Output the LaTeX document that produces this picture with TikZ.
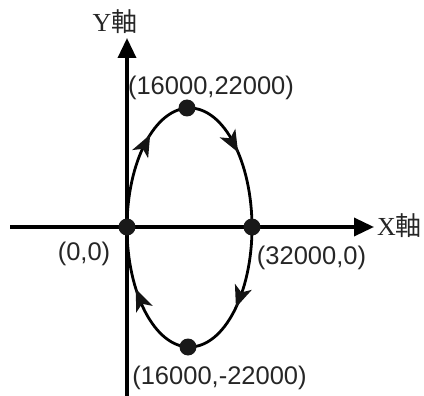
\documentclass[tikz,border=0pt]{standalone}
\usepackage{fontspec}
\setmainfont{Liberation Serif}
\newfontfamily\lsans{Liberation Sans}
\newfontfamily\cjk{Noto Sans CJK TC}
\usetikzlibrary{arrows.meta,calc}
\begin{document}
\begin{tikzpicture}[x=1pt,y=1pt,
  axis/.style={line width=3.5pt,-{Triangle[length=20pt,width=18pt]}},
  curve/.style={line width=2.8pt},
  head/.style={fill=black!92},
  dot/.style={circle,fill=black!90,inner sep=0pt,minimum size=17pt},
  coord/.style={font=\lsans\fontsize{25.5}{25.5}\selectfont,inner sep=0pt,text=black!85},
  lab/.style={font=\fontsize{26}{26}\selectfont,inner sep=0pt,text=black!85}]
\useasboundingbox (0,0) rectangle (424,-396);
% axes
\coordinate (xs) at (10,-227);
\coordinate (xe) at (374,-227);
\coordinate (ys) at (127,-396);
\coordinate (ye) at (127,-38);
\draw[axis] (xs) -- (xe);
\draw[axis] (ys) -- (ye);
\node[lab,anchor=west] (xl) at (377,-226) {X\cjk 軸};
\node[lab] (yl) at (115,-22) {Y\cjk 軸};
% ellipse
\coordinate (E) at (189.5,-227.5);
\draw[curve] (E) ellipse [x radius=62.5, y radius=119.5];
% direction arrowheads (clockwise)
\coordinate (a1) at ($(E)+(142:62.5 and 119.5)$);
\coordinate (a2) at ($(E)+(129:62.5 and 119.5)$);
\coordinate (b1) at ($(E)+(54:62.5 and 119.5)$);
\coordinate (b2) at ($(E)+(39:62.5 and 119.5)$);
\coordinate (c1) at ($(E)+(-27:62.5 and 119.5)$);
\coordinate (c2) at ($(E)+(-42:62.5 and 119.5)$);
\coordinate (d1) at ($(E)+(-134:62.5 and 119.5)$);
\coordinate (d2) at ($(E)+(-149:62.5 and 119.5)$);
\foreach \s/\t in {a1/a2,b1/b2,c1/c2,d1/d2}{
  \coordinate (bk) at ($(\t)!22pt!(\s)$);
  \fill[head] (\t) -- ($(bk)!9pt!90:(\t)$) -- ($(\t)!16pt!(\s)$) -- ($(bk)!9pt!-90:(\t)$) -- cycle;
}
% points
\node[dot] (O) at (127,-227) {};
\node[dot] (R) at (252,-227) {};
\node[dot] (T) at (187,-108) {};
\node[dot] (B) at (188,-347) {};
% labels
\node[coord] (tl) at (211,-88) {(16000,22000)};
\node[coord] (ol) at (84,-254) {(0,0)};
\node[coord] (rl) at (311.5,-258) {(32000,0)};
\node[coord] (bl) at (219.5,-378) {(16000,-22000)};
\end{tikzpicture}
\end{document}
